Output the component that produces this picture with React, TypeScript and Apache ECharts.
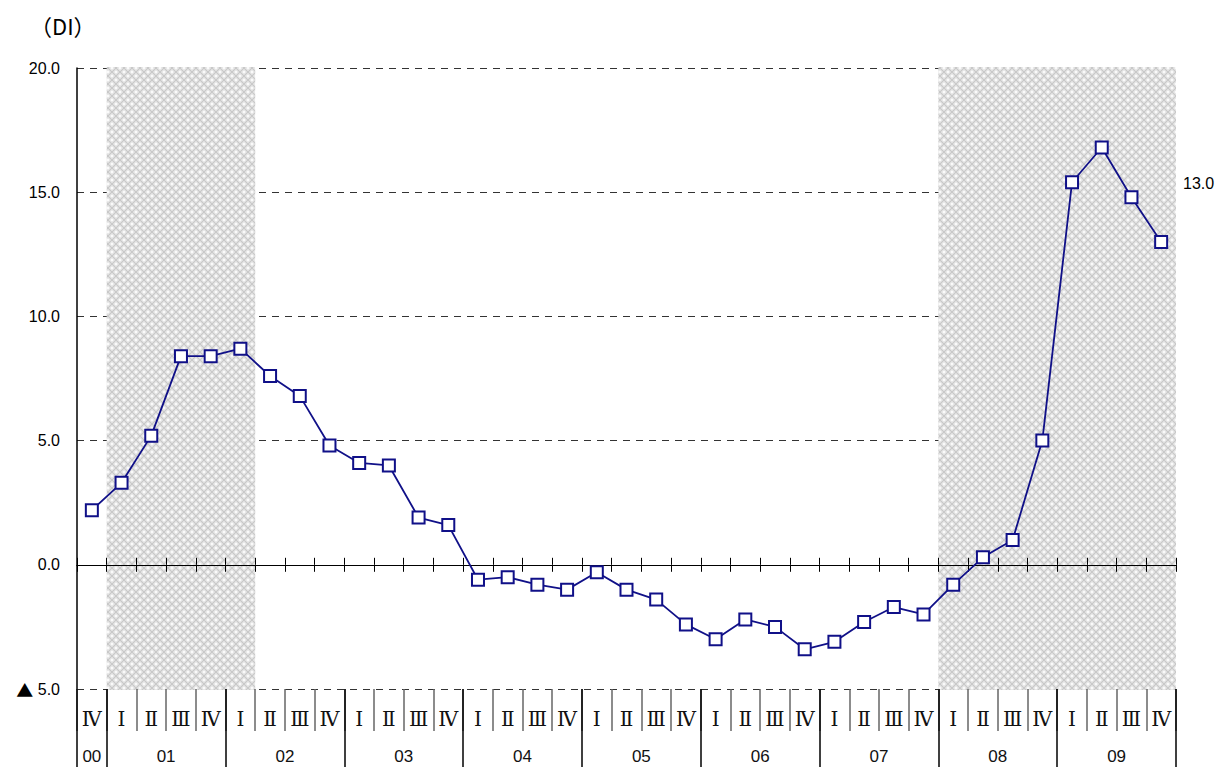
import React, { useEffect, useRef } from "react";
import * as echarts from "echarts";

// ---- data ----
const years = ["00", "01", "02", "03", "04", "05", "06", "07", "08", "09"];
const quarterNames = ["Ⅰ", "Ⅱ", "Ⅲ", "Ⅳ"];
const quartersPerYear = [1, 4, 4, 4, 4, 4, 4, 4, 4, 4];
const diValues = [
  2.2, 3.3, 5.2, 8.4, 8.4, 8.7, 7.6, 6.8, 4.8, 4.1, 4.0, 1.9, 1.6,
  -0.6, -0.5, -0.8, -1.0, -0.3, -1.0, -1.4, -2.4, -3.0, -2.2, -2.5, -3.4,
  -3.1, -2.3, -1.7, -2.0, -0.8, 0.3, 1.0, 5.0, 15.4, 16.8, 14.8, 13.0,
];
// shaded periods as [first period index, last period index]
const shadedRanges = [
  [1, 5],
  [29, 36],
];
const yMin = -5;
const yMax = 20;
const yStep = 5;
const lastValueLabel = "13.0";
const unitLabel = "（DI）";

// build categories
const periodKeys: string[] = [];
const periodQuarter: string[] = [];
const yearBounds: number[] = [0];
const yearCenters: number[] = [];
years.forEach((y, yi) => {
  const n = quartersPerYear[yi];
  const start = yearBounds[yearBounds.length - 1];
  for (let q = 4 - n; q < 4; q++) {
    periodKeys.push(y + "-" + quarterNames[q]);
    periodQuarter.push(quarterNames[q]);
  }
  yearBounds.push(start + n);
  yearCenters.push(start + n / 2);
});
const totalPeriods = periodKeys.length;

function makePattern(): HTMLCanvasElement {
  const c = document.createElement("canvas");
  c.width = 8;
  c.height = 8;
  const ctx = c.getContext("2d")!;
  ctx.fillStyle = "#e8e8e8";
  ctx.fillRect(0, 0, 8, 8);
  ctx.strokeStyle = "#c8c8c8";
  ctx.lineWidth = 1.2;
  ctx.beginPath();
  ctx.moveTo(0, 0);
  ctx.lineTo(8, 8);
  ctx.moveTo(8, 0);
  ctx.lineTo(0, 8);
  ctx.stroke();
  ctx.fillStyle = "#fafafa";
  ctx.fillRect(3, 0, 2, 1);
  ctx.fillRect(0, 3, 1, 2);
  ctx.fillRect(7, 3, 1, 2);
  ctx.fillRect(3, 7, 2, 1);
  return c;
}

export default function App() {
  const ref = useRef<HTMLDivElement>(null);
  useEffect(() => {
    if (!ref.current) return;
    const chart = echarts.init(ref.current, null, { renderer: "svg" });
    const pattern = makePattern();
    const baseFont = "'Liberation Sans', Arial, sans-serif";
    chart.setOption({
      animation: false,
      backgroundColor: "#ffffff",
      grid: { left: 77, right: 40, top: 68, bottom: 78, containLabel: false },
      yAxis: [
        {
          type: "value",
          min: yMin,
          max: yMax,
          interval: yStep,
          z: 0,
          axisLine: { show: true, lineStyle: { color: "#000", width: 1.5 } },
          axisTick: { show: false },
          axisLabel: {
            margin: 17,
            color: "#000",
            fontSize: 16,
            fontFamily: baseFont,
            formatter: (v: number) =>
              v < 0 ? "{tri|▲} " + Math.abs(v).toFixed(1) : v.toFixed(1),
            rich: {
              tri: {
                fontSize: 17,
                fontFamily: "'Noto Sans CJK JP', 'DejaVu Sans', sans-serif",
                color: "#000",
              },
            },
          },
          splitLine: {
            show: true,
            lineStyle: { color: "#333", width: 1, type: [7, 6] },
          },
        },
      ],
      xAxis: [
        {
          // quarter labels below plot
          type: "category",
          data: periodKeys,
          position: "bottom",
          boundaryGap: true,
          z: 5,
          axisLine: { show: false, onZero: false },
          axisTick: {
            show: true,
            interval: 0,
            length: 42,
            lineStyle: { color: "#666", width: 1.5 },
          },
          axisLabel: {
            interval: 0,
            margin: 20,
            color: "#111",
            fontSize: 20,
            fontFamily: "'DejaVu Serif', 'Liberation Serif', serif",
            formatter: (_v: string, i: number) => periodQuarter[i],
          },
          splitLine: { show: false },
        },
        {
          // year labels
          type: "value",
          min: 0,
          max: totalPeriods,
          position: "bottom",
          z: 5,
          axisLine: { show: false, onZero: false },
          splitLine: { show: false },
          axisTick: {
            show: true,
            customValues: yearBounds,
            length: 78,
            lineStyle: { color: "#000", width: 1.5 },
          },
          axisLabel: {
            customValues: yearCenters,
            margin: 59,
            color: "#111",
            fontSize: 17,
            fontFamily: baseFont,
            formatter: (v: number) => {
              const i = yearCenters.findIndex((c) => Math.abs(c - v) < 1e-6);
              return i >= 0 ? years[i] : "";
            },
          },
        },
        {
          // zero line, ticks downward
          type: "category",
          data: periodKeys,
          position: "bottom",
          z: 6,
          axisLine: {
            show: true,
            onZero: true,
            onZeroAxisIndex: 0,
            lineStyle: { color: "#000", width: 1.2 },
          },
          axisTick: {
            show: true,
            interval: 0,
            length: 7,
            lineStyle: { color: "#000", width: 1 },
          },
          axisLabel: { show: false },
          splitLine: { show: false },
        },
        {
          // zero line, ticks upward
          type: "category",
          data: periodKeys,
          position: "top",
          z: 6,
          axisLine: {
            show: true,
            onZero: true,
            onZeroAxisIndex: 0,
            lineStyle: { color: "#000", width: 1.2 },
          },
          axisTick: {
            show: true,
            interval: 0,
            length: 7,
            lineStyle: { color: "#000", width: 1 },
          },
          axisLabel: { show: false },
          splitLine: { show: false },
        },
      ],
      series: [
        {
          type: "custom",
          xAxisIndex: 0,
          yAxisIndex: 0,
          z: 1,
          silent: true,
          encode: { x: [0, 1] },
          data: shadedRanges,
          renderItem: (_params: any, api: any) => {
            const s = api.coord([api.value(0), 0]);
            const e = api.coord([api.value(1), 0]);
            const band = api.size([1, 0])[0];
            const top = api.coord([0, yMax])[1] - 1;
            const bottom = api.coord([0, yMin])[1] + 1;
            return {
              type: "rect",
              shape: {
                x: s[0] - band / 2,
                y: top,
                width: e[0] - s[0] + band,
                height: bottom - top,
              },
              style: {
                fill: { image: pattern, repeat: "repeat" },
              },
            };
          },
        },
        {
          type: "line",
          xAxisIndex: 0,
          yAxisIndex: 0,
          z: 10,
          data: diValues,
          symbol: "rect",
          symbolSize: 12,
          lineStyle: { color: "#101088", width: 1.8 },
          itemStyle: { color: "#ffffff", borderColor: "#101088", borderWidth: 2 },
        },
      ],
      graphic: [
        {
          type: "text",
          left: 30,
          top: 14,
          style: {
            text: unitLabel,
            fontSize: 22,
            fill: "#000",
            fontFamily: "'Noto Sans CJK JP', sans-serif",
          },
        },
        {
          type: "text",
          left: 1183,
          top: 175,
          style: {
            text: lastValueLabel,
            fontSize: 16,
            fill: "#000",
            fontFamily: baseFont,
          },
        },
      ],
    });
    return () => chart.dispose();
  }, []);
  return (
    <div
      ref={ref}
      style={{ position: "fixed", left: 0, top: 0, width: 1216, height: 767 }}
    />
  );
}
